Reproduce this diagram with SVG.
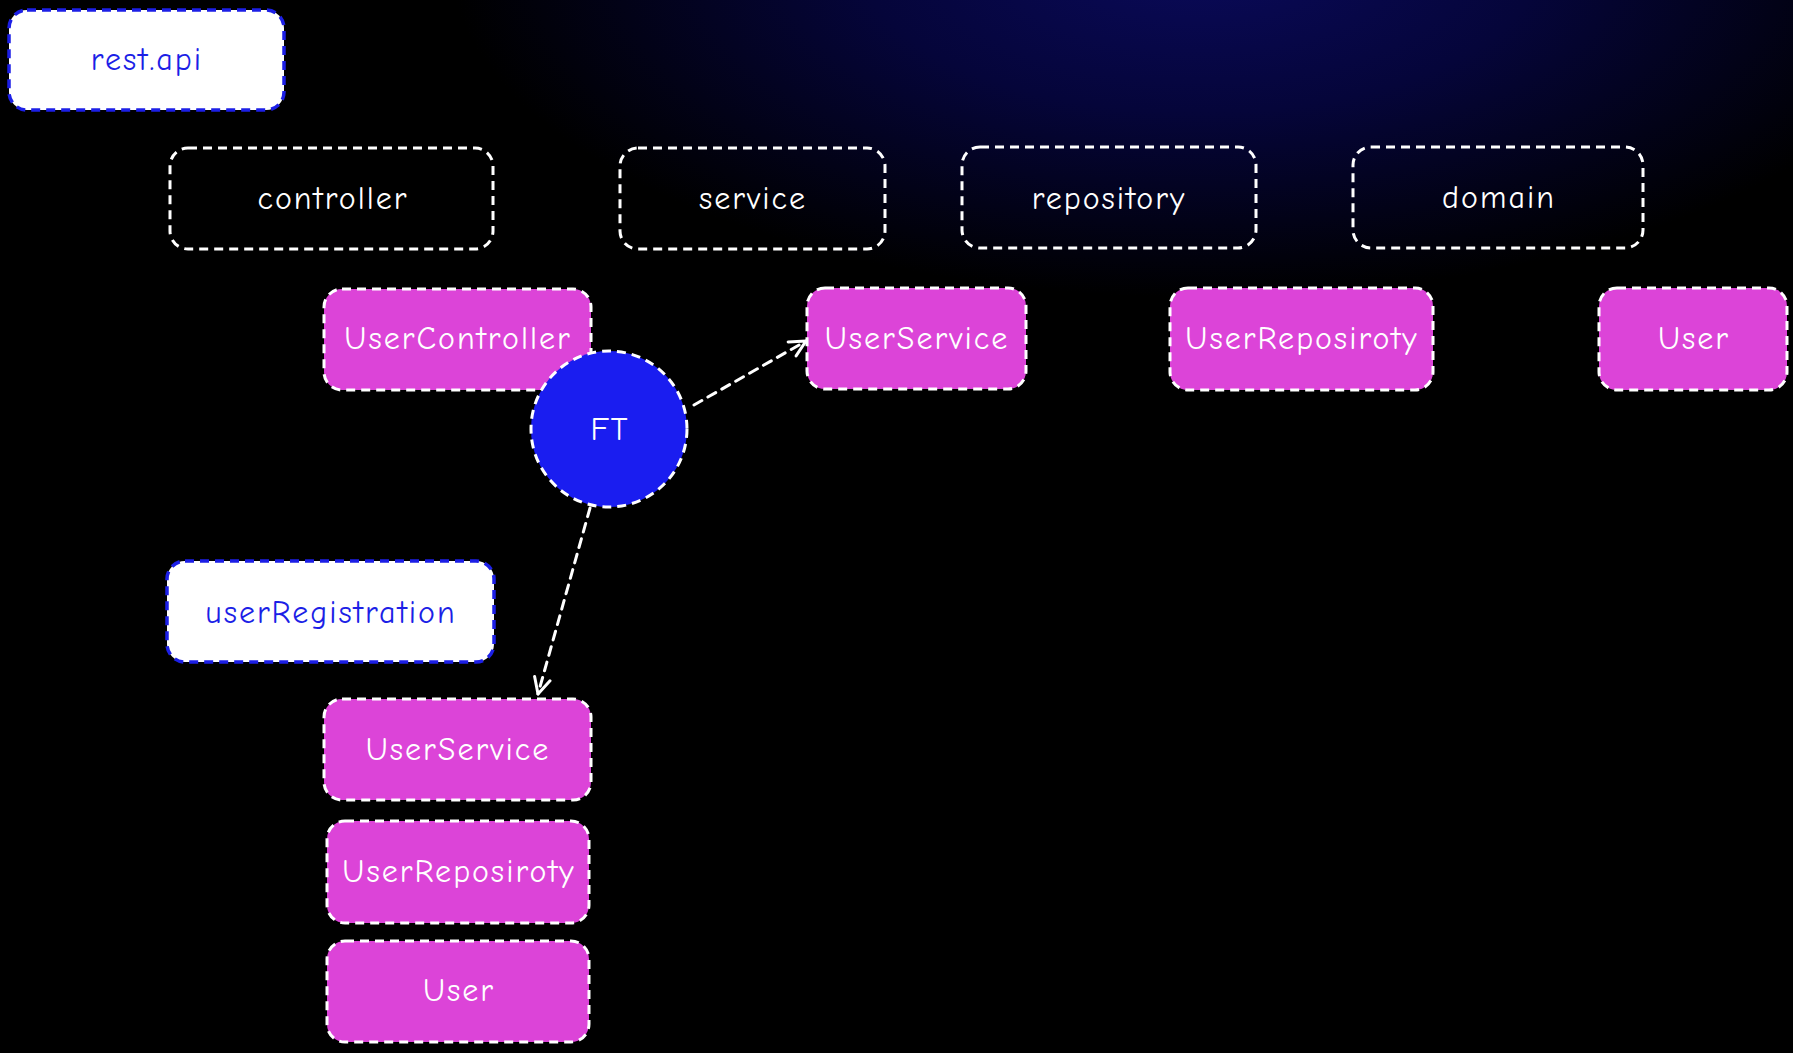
<svg xmlns="http://www.w3.org/2000/svg" width="1793" height="1053" viewBox="0 0 1793 1053">
<defs>
<radialGradient id="glow" cx="1200" cy="-40" r="750" gradientUnits="userSpaceOnUse" gradientTransform="translate(1200 -40) scale(1 0.45) translate(-1200 40)">
<stop offset="0" stop-color="#0a0a5a"/>
<stop offset="0.45" stop-color="#05053a"/>
<stop offset="1" stop-color="#000000"/>
</radialGradient>
<marker id="arr" viewBox="0 0 20 20" refX="18" refY="10" markerWidth="20" markerHeight="20" markerUnits="userSpaceOnUse" orient="auto">
<path d="M2 2 L18 10 L2 18" fill="none" stroke="#ffffff" stroke-width="3" stroke-linecap="round" stroke-linejoin="round"/>
</marker>
<style>
.pkg{fill:#ffffff;stroke:#1c1fe6;stroke-width:3.5;stroke-dasharray:9 6;}
.layer{fill:none;stroke:#ffffff;stroke-width:3;stroke-dasharray:9 6;}
.cls{fill:#dc44d8;stroke:#ffffff;stroke-width:3;stroke-dasharray:9 6;}
.ft{fill:#1a1df0;stroke:#ffffff;stroke-width:3;stroke-dasharray:9 6;}
.t{font-family:"Comic Neue","Liberation Sans",sans-serif;font-size:32px;letter-spacing:2px;text-anchor:middle;dominant-baseline:central;fill:#ffffff;}
.tb{fill:#1c1fe6;}
.edge{fill:none;stroke:#ffffff;stroke-width:3;stroke-dasharray:9 7;stroke-linecap:round;}
</style>
</defs>
<rect width="1793" height="1053" fill="#000"/>
<rect width="1793" height="1053" fill="url(#glow)"/>

<g id="rest-api"><rect class="pkg" x="9" y="10" width="275" height="100" rx="18"/><text class="t tb" x="147" y="59">rest.api</text></g>
<g id="controller"><rect class="layer" x="170" y="148" width="323" height="101" rx="18"/><text class="t" x="333" y="198">controller</text></g>
<g id="service"><rect class="layer" x="620" y="148" width="265" height="101" rx="18"/><text class="t" x="753" y="198">service</text></g>
<g id="repository"><rect class="layer" x="962" y="147" width="294" height="101" rx="18"/><text class="t" x="1109" y="198">repository</text></g>
<g id="domain"><rect class="layer" x="1353" y="147" width="290" height="101" rx="18"/><text class="t" x="1499" y="197">domain</text></g>

<g id="UserController"><rect class="cls" x="324" y="289" width="267" height="101" rx="18"/><text class="t" x="458" y="338">UserController</text></g>
<g id="UserService-top"><rect class="cls" x="807" y="288" width="219" height="101" rx="18"/><text class="t" x="917" y="338">UserService</text></g>
<g id="UserReposiroty-top"><rect class="cls" x="1170" y="288" width="263" height="102" rx="18"/><text class="t" x="1302" y="338">UserReposiroty</text></g>
<g id="User-top"><rect class="cls" x="1599" y="288" width="188" height="102" rx="18"/><text class="t" x="1694" y="338">User</text></g>

<g id="FT"><circle class="ft" cx="609" cy="429" r="78"/><text class="t" x="610" y="429">FT</text></g>

<g id="userRegistration"><rect class="pkg" x="167" y="561" width="327" height="101" rx="18"/><text class="t tb" x="331" y="612">userRegistration</text></g>
<g id="UserService-bottom"><rect class="cls" x="324" y="699" width="267" height="101" rx="18"/><text class="t" x="458" y="749">UserService</text></g>
<g id="UserReposiroty-bottom"><rect class="cls" x="327" y="821" width="262" height="102" rx="18"/><text class="t" x="459" y="871">UserReposiroty</text></g>
<g id="User-bottom"><rect class="cls" x="327" y="941" width="262" height="101" rx="18"/><text class="t" x="459" y="990">User</text></g>

<g id="connectors">
<path class="edge" d="M694 405 L806 341" marker-end="url(#arr)"/>
<path class="edge" d="M590 508 L538 694" marker-end="url(#arr)"/>
</g>
</svg>
